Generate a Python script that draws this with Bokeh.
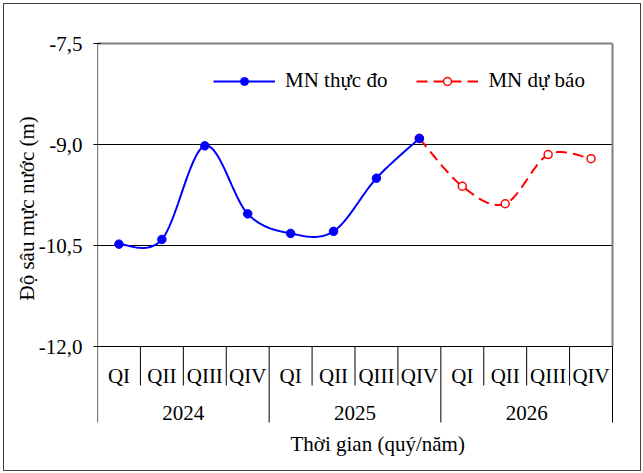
import numpy as np
from bokeh.plotting import figure
from bokeh.layouts import column
from bokeh.models import (Range1d, FixedTicker, CustomJSTickFormatter, Legend,
                          LegendItem, Title)
from bokeh.core.properties import value
from bokeh.embed import file_html
from bokeh.resources import INLINE

# ---------------- data ----------------
years = ["2024", "2025", "2026"]
quarters = ["QI", "QII", "QIII", "QIV"]
observed = [-10.48, -10.41, -9.02, -10.03, -10.32, -10.29, -9.50, -8.91]
forecast = [-8.91, -9.62, -9.88, -9.15, -9.21]
forecast_from = ("2025", "QIV")
y_ticks = [-7.5, -9.0, -10.5, -12.0]
obs_label = "MN thực đo"
fc_label = "MN dự báo"
x_title = "Thời gian  (quý/năm)"
y_title = "Độ sâu mực nước (m)"

periods = [(y, q) for y in years for q in quarters]
n = len(periods)
obs_x = [i + 0.5 for i in range(len(observed))]
f0 = periods.index(forecast_from)
fc_x = [f0 + i + 0.5 for i in range(len(forecast))]

# ---------------- layout (pixels, inside the 1px page frame) ----------------
W, H = 636, 466
FL, PR, FR = 93, 608, 610          # frame left, plot-area right, frame right
FT, FB = 8, 466                    # frame top, frame bottom
YT_PX, YB_PX = 39, 342             # pixel rows of top / bottom y ticks
ymax, ymin = max(y_ticks), min(y_ticks)
ppx = (PR - FL) / n
ppy = (YB_PX - YT_PX) / (ymax - ymin)
x_end = n + (FR - PR) / ppx
y_end = ymax + (YT_PX - FT) / ppy
y_start = ymin - (FB - YB_PX) / ppy


def below(px):
    return ymin - px / ppy


FONT = "Liberation Serif"
FS = "21px"


def smooth(xs, ys, steps=24):
    P = np.column_stack([xs, ys]).astype(float)
    m = len(P)
    out = [P[0]]
    t = np.linspace(0, 1, steps + 1)[1:, None]
    for i in range(m - 1):
        p0, p1, p2, p3 = P[max(i - 1, 0)], P[i], P[i + 1], P[min(i + 2, m - 1)]
        c1 = p1 + (p2 - p0) / 6.0
        c2 = p2 - (p3 - p1) / 6.0
        B = (1 - t) ** 3 * p1 + 3 * (1 - t) ** 2 * t * c1 + 3 * (1 - t) * t ** 2 * c2 + t ** 3 * p2
        out.extend(B)
    a = np.array(out)
    return a[:, 0], a[:, 1]


p = figure(width=W, height=H, output_backend="svg", toolbar_location=None,
           x_axis_location=None, x_range=Range1d(0, x_end),
           y_range=Range1d(y_start, y_end),
           min_border_left=FL, min_border_right=W - FR,
           min_border_top=FT, min_border_bottom=H - FB)
p.outline_line_color = None
p.grid.visible = False
p.background_fill_color = "white"
p.border_fill_color = "white"

# plot area frame and grid
inner = [t for t in y_ticks if t not in (ymax, ymin)]
p.segment(x0=[0] * len(inner), x1=[n] * len(inner), y0=inner, y1=inner,
          line_color="black", line_width=1)
p.segment(x0=[0], x1=[n], y0=[ymax], y1=[ymax], line_color="#808080", line_width=2)
p.segment(x0=[n], x1=[n], y0=[ymin], y1=[ymax], line_color="#808080", line_width=2)
p.segment(x0=[0], x1=[n], y0=[ymin], y1=[ymin], line_color="black", line_width=1.2)

# category axis drawn below
q_sep_bot = below(39)
y_sep_bot = below(76)
nq = len(quarters)
qsep = [k for k in range(1, n) if k % nq]
ysep = [k for k in range(nq, n + 1, nq)]
p.segment(x0=qsep, x1=qsep, y0=[ymin] * len(qsep), y1=[q_sep_bot] * len(qsep),
          line_color="black", line_width=1)
p.segment(x0=ysep, x1=ysep, y0=[ymin] * len(ysep), y1=[y_sep_bot] * len(ysep),
          line_color="black", line_width=1)
p.segment(x0=[0], x1=[0], y0=[ymax], y1=[y_sep_bot], line_color="black", line_width=1.2)

p.text(x=[i + 0.5 for i in range(n)], y=[below(29)] * n, text=[q for _, q in periods],
       text_align="center", text_baseline="middle", text_font=value(FONT),
       text_font_size=FS, text_color="black")
p.text(x=[nq * (k + 0.5) for k in range(len(years))], y=[below(66)] * len(years),
       text=years, text_align="center", text_baseline="middle",
       text_font=value(FONT), text_font_size=FS, text_color="black")
p.text(x=[n / 2 + 0.59], y=[below(97)], text=[x_title], text_align="center",
       text_baseline="middle", text_font=value(FONT), text_font_size=FS,
       text_color="black")

# series
fx, fy = smooth(fc_x, forecast)
r_line = p.line(fx, fy, line_color="#FF0000", line_width=2, line_dash="11 6")
r_mark = p.scatter(fc_x, forecast, marker="circle", size=8, line_color="#FF0000",
                   line_width=1.5, fill_color="white")
ox, oy = smooth(obs_x, observed)
b_line = p.line(ox, oy, line_color="#0000FF", line_width=2)
b_mark = p.scatter(obs_x, observed, marker="circle", size=8.5, line_color="#0000FF",
                   fill_color="#0000FF")

legend = Legend(items=[LegendItem(label=obs_label, renderers=[b_line, b_mark]),
                       LegendItem(label=fc_label, renderers=[r_line, r_mark])],
                orientation="horizontal", location=(116, 377), padding=0,
                spacing=29, glyph_width=62, glyph_height=20, label_standoff=10,
                label_text_font=FONT, label_text_font_size=FS,
                label_text_color="black", border_line_color=None,
                background_fill_alpha=0, margin=0)
p.add_layout(legend)

# y axis
ax = p.yaxis[0]
ax.ticker = FixedTicker(ticks=y_ticks)
ax.formatter = CustomJSTickFormatter(code="return tick.toFixed(1).replace('.', ',');")
ax.axis_line_color = None
ax.major_tick_in = 3
ax.major_tick_out = 4
ax.major_tick_line_color = "black"
ax.minor_tick_line_color = None
ax.major_label_standoff = 11
ax.major_label_text_font = FONT
ax.major_label_text_font_size = FS
ax.major_label_text_color = "black"

p.add_layout(Title(text=y_title, align="left", offset=FB - 296, standoff=-6,
                   text_font=FONT, text_font_size=FS, text_font_style="normal",
                   text_color="black"), "left")

page = column(p, styles={"border": "1px solid #404040", "margin": "3px"})
open("out.html", "w").write(file_html(page, INLINE))
